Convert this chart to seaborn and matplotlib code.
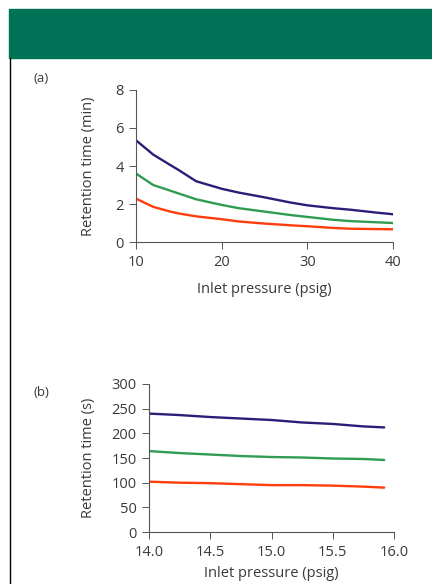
import pandas as pd
import matplotlib.pyplot as plt
import seaborn as sns
from matplotlib.patches import Rectangle
from matplotlib.lines import Line2D

# Panel (a): retention time (min) vs inlet pressure (psig)
pressure_a = [10, 12, 14, 15, 17, 20, 22, 25, 28, 30, 33, 35, 38, 40]
blue_a = [5.35, 4.6, 4.05, 3.78, 3.2, 2.8, 2.6, 2.35, 2.08, 1.93, 1.78, 1.7, 1.55, 1.46]
green_a = [3.6, 3.0, 2.7, 2.55, 2.25, 1.95, 1.78, 1.6, 1.42, 1.32, 1.17, 1.1, 1.04, 1.0]
red_a = [2.28, 1.85, 1.6, 1.5, 1.35, 1.2, 1.08, 0.97, 0.88, 0.83, 0.74, 0.7, 0.68, 0.67]

# Panel (b): retention time (s) vs inlet pressure (psig)
pressure_b = [14.0, 14.25, 14.5, 14.75, 15.0, 15.25, 15.5, 15.75, 15.92]
blue_b = [240, 237, 233, 230, 227, 222, 219, 214, 212]
green_b = [164, 160, 157, 154, 152, 151, 149, 148, 146]
red_b = [102, 100, 99, 97, 95, 95, 94, 92, 90]

series = ['blue', 'green', 'red']
palette = {'blue': '#2b1c78', 'green': '#2f9c52', 'red': '#ff3c0c'}

df_a = pd.DataFrame({'pressure': pressure_a * 3,
                     'time': blue_a + green_a + red_a,
                     'series': [s for s in series for _ in pressure_a]})
df_b = pd.DataFrame({'pressure': pressure_b * 3,
                     'time': blue_b + green_b + red_b,
                     'series': [s for s in series for _ in pressure_b]})

sns.set_style('white')
plt.rcParams['font.family'] = ['Open Sans', 'DejaVu Sans']

txt = '#3a3a3a'
fig = plt.figure(figsize=(4.32, 5.84), dpi=100)

# green header band and left border
fig.patches.append(Rectangle((9 / 432, 1 - 58 / 584), 1, 49 / 584, transform=fig.transFigure,
                             color='#007255', zorder=0))
fig.lines.append(Line2D([9.5 / 432, 9.5 / 432], [0, 1 - 58 / 584], transform=fig.transFigure,
                        color='black', lw=1.0))

ax1 = fig.add_axes([0.315, 0.5856, 0.595, 0.2603])
ax2 = fig.add_axes([0.345, 0.089, 0.567, 0.2535])

sns.lineplot(data=df_a, x='pressure', y='time', hue='series', palette=palette,
             linewidth=1.7, legend=False, ax=ax1)
sns.lineplot(data=df_b, x='pressure', y='time', hue='series', palette=palette,
             linewidth=1.7, legend=False, ax=ax2)

ax1.set_xlim(10, 40)
ax1.set_ylim(0, 8)
ax1.set_xticks([10, 20, 30, 40])
ax1.set_yticks([0, 2, 4, 6, 8])
ax1.set_ylabel('Retention time (min)', fontsize=10.5, color=txt, labelpad=14)
ax1.set_xlabel('Inlet pressure (psig)', fontsize=10.5, color=txt, labelpad=9)

ax2.set_xlim(14, 16)
ax2.set_ylim(0, 300)
ax2.set_xticks([14.0, 14.5, 15.0, 15.5, 16.0])
ax2.set_xticklabels(['14.0', '14.5', '15.0', '15.5', '16.0'])
ax2.set_yticks([0, 50, 100, 150, 200, 250, 300])
ax2.set_ylabel('Retention time (s)', fontsize=10.5, color=txt, labelpad=11)
ax2.set_xlabel('Inlet pressure (psig)', fontsize=10.5, color=txt, labelpad=5)

for ax in (ax1, ax2):
    sns.despine(ax=ax)
    for side in ('left', 'bottom'):
        ax.spines[side].set_linestyle((0, (1, 1)))
        ax.spines[side].set_color('#555555')
        ax.spines[side].set_linewidth(0.8)
    ax.tick_params(direction='out', length=5, width=0.7, color='#555555', pad=4,
                   labelsize=10.5, labelcolor=txt, left=True, bottom=True)

fig.text(33 / 432, 1 - 78 / 584, '(a)', fontsize=9.5, color=txt, va='center')
fig.text(33 / 432, 1 - 393 / 584, '(b)', fontsize=9.5, color=txt, va='center')

fig.savefig('out.png', dpi=100)
